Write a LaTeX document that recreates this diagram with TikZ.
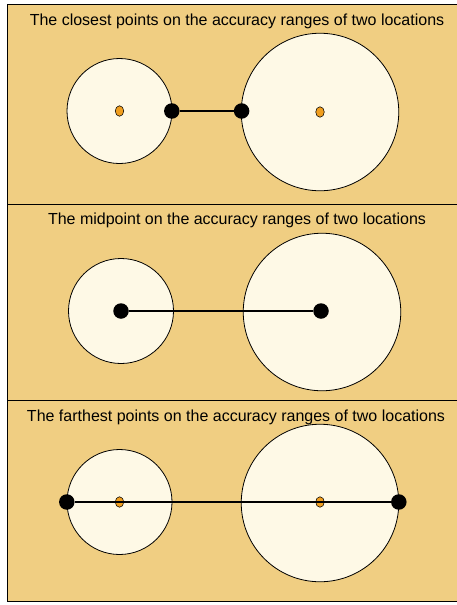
\documentclass[tikz,border=0pt]{standalone}
\usepackage{fontspec}
\setmainfont{Liberation Sans}
\definecolor{panelbg}{RGB}{240,206,130}
\definecolor{rangefill}{RGB}{254,249,230}
\definecolor{locorange}{RGB}{240,158,30}
\tikzset{
  panel/.style={draw=black, line width=1.2pt, fill=panelbg, rectangle, inner sep=0pt, anchor=north west},
  titletext/.style={font=\fontsize{16}{18}\selectfont, inner sep=0pt, anchor=center},
  rangecircle/.style={circle, draw=black, line width=0.8pt, fill=rangefill, inner sep=0pt},
  smallrange/.style={rangecircle, minimum size=105pt},
  bigrange/.style={rangecircle, minimum size=157.5pt},
  locdot/.style={ellipse, draw=black, line width=0.5pt, fill=locorange, inner sep=0pt, minimum width=8.5pt, minimum height=10.5pt},
  enddot/.style={circle, fill=black, inner sep=0pt, minimum size=15.5pt},
  link/.style={draw=black, line width=2pt}
}
\usetikzlibrary{shapes.geometric}
\begin{document}
\begin{tikzpicture}[x=1pt,y=-1pt]
\useasboundingbox (0,0) rectangle (457,605);
\fill[white] (0,0) rectangle (457,605);
% panels
\node[panel, minimum width=460pt, minimum height=200pt] (p1) at (7,4) {};
\node[panel, minimum width=460pt, minimum height=196pt] (p2) at (7,204) {};
\node[panel, minimum width=460pt, minimum height=201pt] (p3) at (7,400) {};
% titles
\node[titletext] (t1) at (237,21) {The closest points on the accuracy ranges of two locations};
\node[titletext] (t2) at (237,220) {The midpoint on the accuracy ranges of two locations};
\node[titletext] (t3) at (236,417) {The farthest points on the accuracy ranges of two locations};
% panel 1
\node[smallrange] (a1) at (119.5,111) {};
\node[bigrange] (b1) at (320,112) {};
\node[locdot] (ac1) at (a1.center) {};
\node[locdot] (bc1) at (b1.center) {};
\node[enddot] (e1a) at (171.8,111) {};
\node[enddot] (e1b) at (241.6,111) {};
\draw[link] (e1a) -- (e1b);
% panel 2
\node[smallrange] (a2) at (121,311) {};
\node[bigrange] (b2) at (322,312) {};
\node[enddot] (e2a) at (121,311) {};
\node[enddot] (e2b) at (321,311) {};
\draw[link] (e2a) -- (e2b);
% panel 3
\node[smallrange] (a3) at (119.5,502) {};
\node[bigrange] (b3) at (320,503) {};
\node[locdot] (ac3) at (119.5,502) {};
\node[locdot] (bc3) at (320,502) {};
\node[enddot] (e3a) at (66.8,502) {};
\node[enddot] (e3b) at (398.8,502) {};
\draw[link] (e3a) -- (e3b);
\end{tikzpicture}
\end{document}
